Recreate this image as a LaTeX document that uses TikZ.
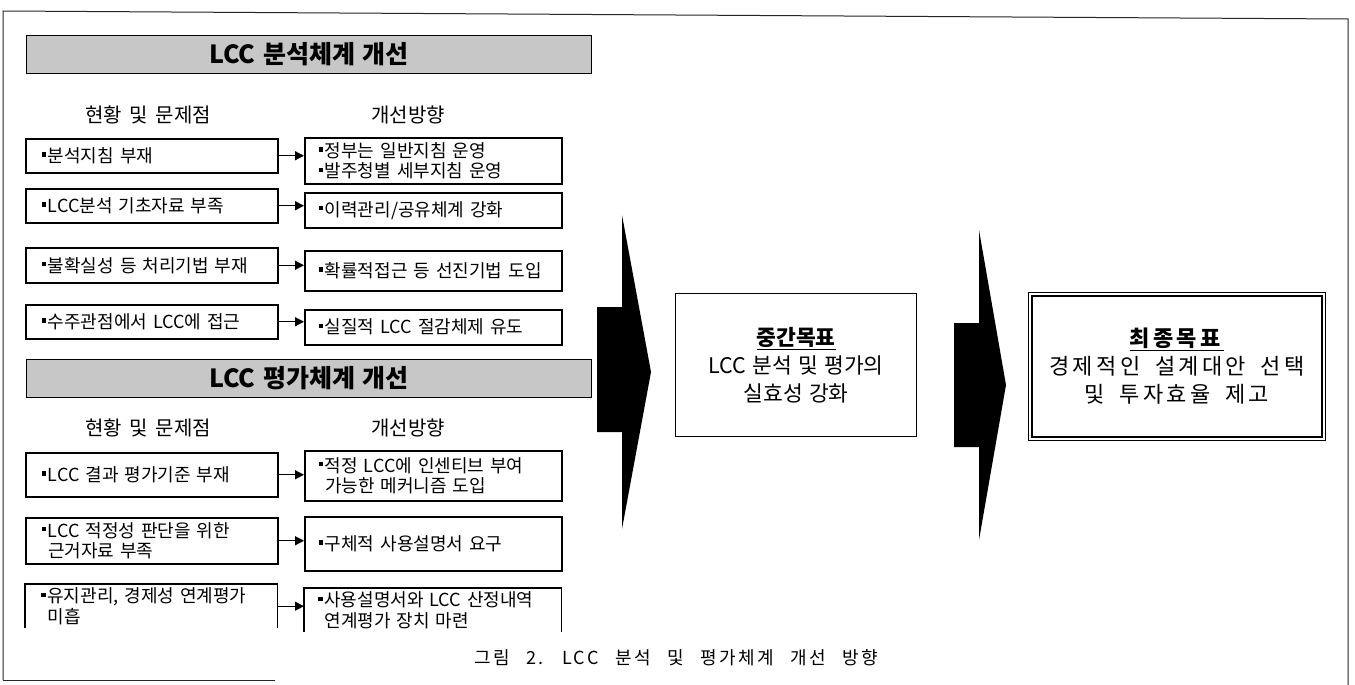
\documentclass[tikz,border=0pt]{standalone}
\usepackage{fontspec}
\setmainfont{Noto Sans CJK KR}[WordSpace=1.7]
\newfontfamily\capfont{Noto Sans CJK KR}[WordSpace=2.5, LetterSpace=14]
\newfontfamily\goalfont{Noto Sans CJK KR}[WordSpace=1.8, LetterSpace=15]
\newfontfamily\midfont{Noto Sans CJK KR}[WordSpace=2]
\newfontfamily\barfont{Noto Sans CJK KR}[WordSpace=1.3]
\usetikzlibrary{arrows.meta}
\newcommand{\bu}{\raisebox{0.32em}{\rule{0.24em}{0.24em}}\hspace{0.1em}}
\newcommand{\ind}{\hspace*{0.35em}}
\begin{document}
\begin{tikzpicture}[x=1pt,y=-1pt,
  frame/.style={line width=1pt, draw=black!85},
  bar/.style={draw=black, line width=1pt, fill=black!22, minimum width=565pt, minimum height=38pt, anchor=north west, inner sep=0pt, font=\barfont\bfseries\fontsize{25}{28}\selectfont},
  hdr/.style={font=\fontsize{20}{23}\selectfont, inner sep=0pt},
  boxtext/.style={anchor=north west, inner ysep=0pt, align=left, font=\fontsize{18}{20.5}\selectfont},
  lbox/.style={boxtext, draw=black, line width=1.5pt, text width=220pt, inner xsep=16pt},
  rbox/.style={boxtext, draw=black, line width=1.5pt, text width=229pt, inner xsep=14pt},
  lopen/.style={boxtext, text width=220pt, inner xsep=16pt},
  ropen/.style={boxtext, text width=229pt, inner xsep=14pt},
  sarrow/.style={line width=1.2pt, -{Triangle[length=9pt,width=9pt]}},
  bigarrow/.style={fill=black},
  goal/.style={draw=black, anchor=north west, align=center, inner sep=0pt},
  side/.style={line width=1.5pt}
]
\useasboundingbox (0,0) rectangle (1355,685);
\fill[white] (0,0) rectangle (1355,685);

% outer frame
\draw[frame] (3,680) -- (3,11) -- (1348,19) -- (1348,685);
\draw[frame] (3,680) -- (275,680);

% section 1
\node[bar] (bar1) at (26,35) {LCC 분석체계 개선};
\node[hdr] (h1l) at (148,115) {현황 및 문제점};
\node[hdr] (h1r) at (408,115) {개선방향};

\node[lbox, minimum height=34pt] (l1) at (25,138) {\bu 분석지침 부재};
\node[rbox, minimum height=46pt] (r1) at (304,137) {\bu 정부는 일반지침 운영\\\bu 발주청별 세부지침 운영};
\node[lbox, minimum height=34pt] (l2) at (25,188) {\bu LCC분석 기초자료 부족};
\node[rbox, minimum height=35pt] (r2) at (304,192) {\bu 이력관리/공유체계 강화};
\node[lbox, minimum height=35pt] (l3) at (25,247) {\bu 불확실성 등 처리기법 부재};
\node[rbox, minimum height=40pt] (r3) at (304,250) {\bu 확률적접근 등 선진기법 도입};
\node[lbox, minimum height=34pt] (l4) at (25,304) {\bu 수주관점에서 LCC에 접근};
\node[rbox, minimum height=35pt] (r4) at (304,309) {\bu 실질적 LCC 절감체제 유도};

\draw[sarrow] (l1.east) -- (l1.east -| r1.west);
\draw[sarrow] (l2.east) -- (l2.east -| r2.west);
\draw[sarrow] (l3.east) -- (l3.east -| r3.west);
\draw[sarrow] (l4.east) -- (l4.east -| r4.west);

% section 2
\node[bar] (bar2) at (26,359) {LCC 평가체계 개선};
\node[hdr] (h2l) at (148,428) {현황 및 문제점};
\node[hdr] (h2r) at (408,428) {개선방향};

\node[lbox, minimum height=44pt] (l5) at (25,452) {\bu LCC 결과 평가기준 부재};
\node[rbox, minimum height=50pt] (r5) at (304,450) {\bu 적정 LCC에 인센티브 부여\\\ind 가능한 메커니즘 도입};
\node[lbox, minimum height=46pt] (l6) at (25,517) {\bu LCC 적정성 판단을 위한\\\ind 근거자료 부족};
\node[rbox, minimum height=54pt] (r6) at (304,516) {\bu 구체적 사용설명서 요구};
\node[lopen, minimum height=44pt] (l7) at (25,584) {\bu 유지관리, 경제성 연계평가\\\ind 미흡};
\node[ropen, minimum height=44pt] (r7) at (304,588) {\bu 사용설명서와 LCC 산정내역\\\ind 연계평가 장치 마련};
\draw[side] (l7.south west) -- (l7.north west) -- (l7.north east) -- (l7.south east);
\draw[side] (r7.south west) -- (r7.north west) -- (r7.north east) -- (r7.south east);

\draw[sarrow] (l5.east) -- (l5.east -| r5.west);
\draw[sarrow] (l6.east) -- (l6.east -| r6.west);
\draw[sarrow] (l7.east) -- (l7.east -| r7.west);

% big arrows
\fill[bigarrow] (622,215) -- (651,372) -- (622,529) -- (622,432) -- (597,432) -- (597,307) -- (622,307) -- cycle;
\fill[bigarrow] (979,230) -- (1006,385) -- (979,540) -- (979,447) -- (954,447) -- (954,323) -- (979,323) -- cycle;

% goals
\node[goal, line width=1.3pt, minimum width=241pt, minimum height=143pt, font=\midfont\fontsize{21.5}{28}\selectfont] (mid) at (675,293)
  {\underline{\textbf{중간목표}}\\LCC 분석 및 평가의\\실효성 강화};
\node[goal, line width=0.9pt, minimum width=297pt, minimum height=148pt, font=\goalfont\fontsize{22}{28}\selectfont] (fin) at (1028,292)
  {\underline{\textbf{최종목표}}\\경제적인 설계대안 선택\\및 투자효율 제고};
\draw[line width=2pt] ([shift={(4,4)}]fin.north west) rectangle ([shift={(-4,-4)}]fin.south east);

% caption
\node[font=\capfont\fontsize{18}{21}\selectfont, inner sep=0pt] (cap) at (676,658) {그림 2. LCC 분석 및 평가체계 개선 방향};
\end{tikzpicture}
\end{document}
